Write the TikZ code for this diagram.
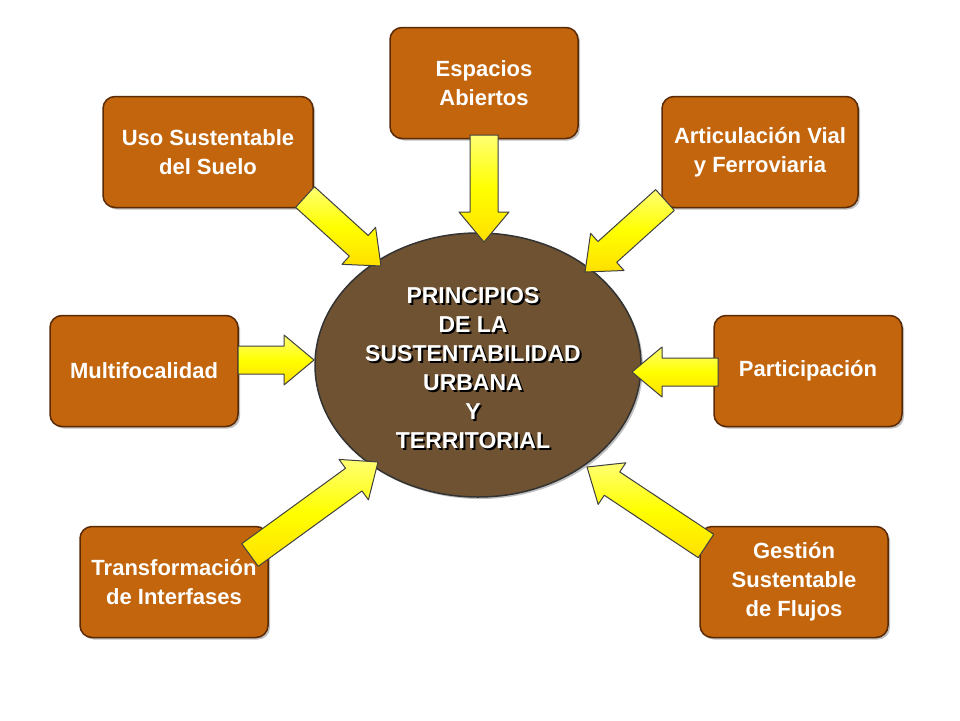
\documentclass[tikz,border=0pt]{standalone}
\usepackage{fontspec}
\setmainfont{Liberation Sans}
\usetikzlibrary{calc,shadows,shapes.geometric}
\definecolor{boxor}{HTML}{C2650C}
\definecolor{boxedge}{HTML}{5A2A05}
\definecolor{ellbr}{HTML}{6E5231}
\tikzset{
  box/.style={draw=boxedge,line width=1.5pt,rounded corners=12pt,fill=boxor,
    minimum width=188pt,minimum height=111pt,text=white,align=center,inner sep=1pt,
    font=\bfseries\fontsize{22}{29}\selectfont,
    drop shadow={shadow xshift=2pt,shadow yshift=-2pt,opacity=.5}},
  arrowfill/.style={draw=black!75,line width=1pt,line join=round,
    top color=yellow!55,bottom color=yellow!75!orange,middle color=yellow},
  ctext/.style={align=center,font=\bfseries\fontsize{23}{29}\selectfont},
}
\newcommand\blockarrow[2]{%
  \path[arrowfill] let \p1=($(#2)-(#1)$), \n1={atan2(\y1,\x1)}, \n2={veclen(\x1,\y1)} in
   [shift={(#1)},rotate=\n1] (0,-14) -- (\n2-30,-14) -- (\n2-30,-25) -- (\n2,0)
   -- (\n2-30,25) -- (\n2-30,14) -- (0,14) -- cycle;}
\begin{document}
\begin{tikzpicture}[x=1pt,y=1pt]
\useasboundingbox (0,0) rectangle (960,-720);
\fill[white] (0,0) rectangle (960,-720);
\node[box] (esp) at (484,-83) {Espacios\\Abiertos};
\node[box,minimum width=210pt] (uso) at (208,-152) {Uso Sustentable\\del Suelo};
\node[box,minimum width=196pt] (art) at (760,-152) {Articulación Vial\\y Ferroviaria};
\node[box] (mul) at (144,-371) {Multifocalidad};
\node[box] (par) at (808,-371) {Participación};
\node[box] (tra) at (174,-582) {Transformación\\de Interfases};
\node[box] (ges) at (794,-582) {Gestión\\Sustentable\\de Flujos};
\node[ellipse,draw=black!80,line width=1.5pt,fill=ellbr,minimum width=326pt,minimum height=264pt,
  drop shadow={shadow xshift=2pt,shadow yshift=-2pt,opacity=.5}] (c) at (478,-365) {};
\node[ctext,text=black] (cs) at (475,-370) {PRINCIPIOS\\DE LA\\SUSTENTABILIDAD\\URBANA\\Y\\TERRITORIAL};
\node[ctext,text=white] (ct) at (473,-368) {PRINCIPIOS\\DE LA\\SUSTENTABILIDAD\\URBANA\\Y\\TERRITORIAL};
\coordinate (a1s) at (484,-135); \coordinate (a1e) at (484,-242);
\coordinate (a2s) at (305,-197); \coordinate (a2e) at (381,-266);
\coordinate (a3s) at (665,-200); \coordinate (a3e) at (585,-272);
\coordinate (a4s) at (238,-360); \coordinate (a4e) at (314,-360);
\coordinate (a5s) at (718,-372); \coordinate (a5e) at (632,-372);
\coordinate (a6s) at (250,-555); \coordinate (a6e) at (378,-462);
\coordinate (a7s) at (706,-546); \coordinate (a7e) at (587,-467);
\blockarrow{a1s}{a1e}
\blockarrow{a2s}{a2e}
\blockarrow{a3s}{a3e}
\blockarrow{a4s}{a4e}
\blockarrow{a5s}{a5e}
\blockarrow{a6s}{a6e}
\blockarrow{a7s}{a7e}
\end{tikzpicture}
\end{document}
